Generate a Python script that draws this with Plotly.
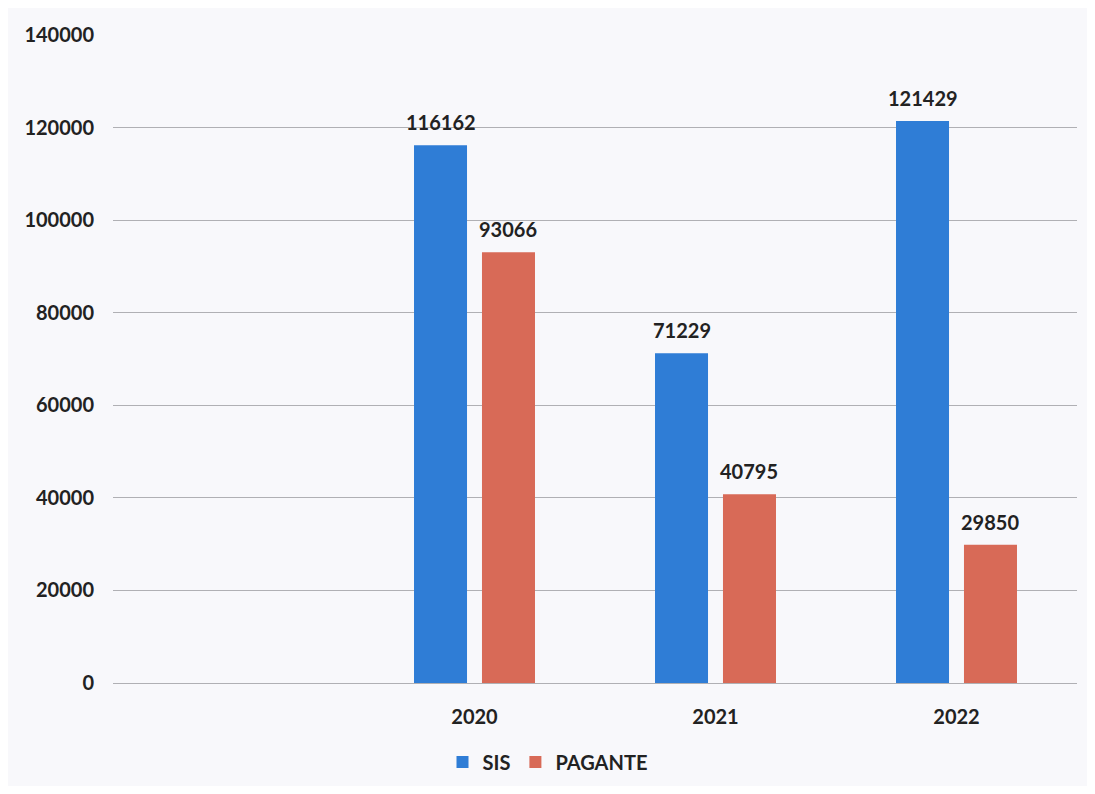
import plotly.graph_objects as go

years = ["", "2020", "2021", "2022"]
sis = [None, 116162, 71229, 121429]
pagante = [None, 93066, 40795, 29850]
y_ticks = [0, 20000, 40000, 60000, 80000, 100000, 120000, 140000]

FONT = "Lato"
x = list(range(len(years)))
BARGAP = 0.436
OFFSET = (1 - BARGAP) / 4  # centre of each bar slot relative to category centre

fig = go.Figure()
fig.add_trace(go.Bar(name="SIS", x=x, y=sis, marker=dict(color="#2F7DD6", line=dict(width=0))))
fig.add_trace(go.Bar(name="PAGANTE", x=x, y=pagante, marker=dict(color="#D86A57", line=dict(width=0))))

annotations = []
for series, shift in ((sis, -OFFSET), (pagante, OFFSET)):
    for xi, v in zip(x, series):
        if v is None:
            continue
        annotations.append(dict(
            x=xi + shift, y=v, xref="x", yref="y", text=str(v), showarrow=False,
            yanchor="bottom", yshift=9,
            font=dict(family=FONT, size=20, color="#222222", weight="bold"),
        ))

fig.update_layout(
    width=1079, height=778,
    margin=dict(l=105, r=10, t=27, b=103),
    paper_bgcolor="#F8F8FB", plot_bgcolor="#F8F8FB",
    barmode="group", bargap=BARGAP, bargroupgap=0.22,
    font=dict(family=FONT, size=20, color="#222222"),
    showlegend=True,
    legend=dict(orientation="h", xref="container", yref="container", x=0.5, xanchor="center",
                y=0.031, yanchor="middle", font=dict(family=FONT, size=20, color="#222222", weight="bold"),
                itemwidth=30, traceorder="normal"),
    annotations=annotations,
)
fig.update_xaxes(
    tickmode="array", tickvals=x, ticktext=years, range=[-0.5, len(years) - 0.5],
    showgrid=False, zeroline=False, showline=False, ticks="",
    tickfont=dict(family=FONT, size=20, color="#222222", weight="bold"),
    ticklabelstandoff=20,
)
fig.update_yaxes(
    range=[0, 140000], tickmode="array", tickvals=y_ticks, ticktext=[str(t) for t in y_ticks],
    showgrid=True, gridcolor="#B0B0B4", gridwidth=1, zeroline=True, zerolinecolor="#B0B0B4",
    zerolinewidth=1, showline=False, ticks="",
    tickfont=dict(family=FONT, size=20, color="#222222", weight="bold"),
    ticklabelstandoff=18,
)

fig.write_html("out.html")
